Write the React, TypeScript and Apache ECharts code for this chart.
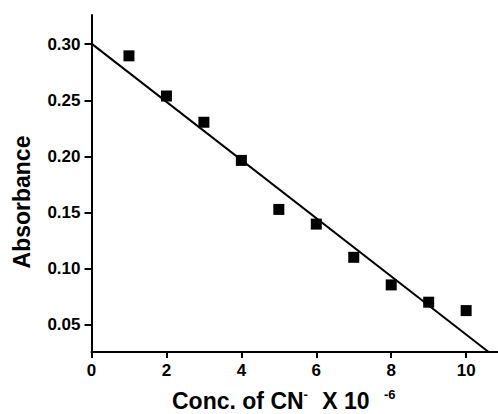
import React, { useEffect, useRef } from "react";
import * as echarts from "echarts";

const concentrations = [1, 2, 3, 4, 5, 6, 7, 8, 9, 10];
const absorbance = [0.2896, 0.2538, 0.2304, 0.1964, 0.1527, 0.1396, 0.110, 0.0854, 0.070, 0.0625];
const fitLine: [number, number][] = [
  [0, 0.3005],
  [10.6, 0.0256],
];
const xTicks = [0, 2, 4, 6, 8, 10];
const yTicks = [0.05, 0.1, 0.15, 0.2, 0.25, 0.3];

const FONT = "'Liberation Sans', Arial, sans-serif";

export default function App() {
  const ref = useRef<HTMLDivElement>(null);
  useEffect(() => {
    document.body.style.margin = "0";
    const chart = echarts.init(ref.current!, null, { renderer: "svg" });
    chart.setOption({
      animation: false,
      backgroundColor: "#ffffff",
      grid: { left: 91.5, right: 0, top: 15, bottom: 62 },
      xAxis: {
        type: "value",
        min: 0,
        max: 10.85,
        splitLine: { show: false },
        axisLine: { show: true, onZero: false, lineStyle: { color: "#000", width: 2 } },
        axisTick: { show: true, length: 6, customValues: xTicks, lineStyle: { color: "#000", width: 2 } },
        axisLabel: {
          color: "#000",
          fontFamily: FONT,
          fontWeight: "bold",
          fontSize: 17,
          margin: 10,
          customValues: xTicks,
          formatter: (v: number) => String(v),
        },
      },
      yAxis: {
        type: "value",
        min: 0.0256,
        max: 0.326,
        splitLine: { show: false },
        axisLine: { show: true, onZero: false, lineStyle: { color: "#000", width: 2 } },
        axisTick: { show: true, length: 7, customValues: yTicks, lineStyle: { color: "#000", width: 2 } },
        axisLabel: {
          color: "#000",
          fontFamily: FONT,
          fontWeight: "bold",
          fontSize: 17,
          margin: 11,
          customValues: yTicks,
          formatter: (v: number) => v.toFixed(2),
        },
      },
      graphic: [
        {
          type: "text",
          x: 22,
          y: 202,
          rotation: Math.PI / 2,
          style: {
            text: "Absorbance",
            font: `bold 23px ${FONT}`,
            fill: "#000",
            align: "center",
            verticalAlign: "middle",
          },
        },
        {
          type: "text",
          x: 172,
          y: 401,
          style: {
            text: "{m|Conc. of CN}{s|-}{g| }{m| X 10 }{g| }{s|-6}",
            fill: "#000",
            align: "left",
            verticalAlign: "middle",
            rich: {
              m: { font: `bold 23px ${FONT}`, fill: "#000", lineHeight: 24 },
              g: { font: `bold 23px ${FONT}`, fill: "#000", lineHeight: 24, width: 8 },
              s: { font: `bold 13px ${FONT}`, fill: "#000", lineHeight: 24, padding: [0, 0, 14, 0] },
            },
          },
        },
      ],
      series: [
        {
          type: "line",
          data: fitLine,
          symbol: "none",
          lineStyle: { color: "#000", width: 2 },
          silent: true,
        },
        {
          type: "scatter",
          data: concentrations.map((c, i) => [c, absorbance[i]]),
          symbol: "rect",
          symbolSize: 11,
          itemStyle: { color: "#000", opacity: 1 },
        },
      ],
    });
    return () => chart.dispose();
  }, []);
  return <div ref={ref} style={{ width: 498, height: 414 }} />;
}
